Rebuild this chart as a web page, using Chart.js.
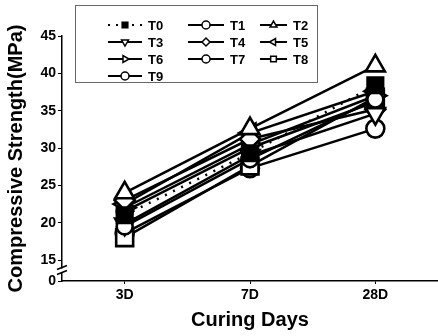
<!DOCTYPE html>
<html>
<head>
<meta charset="utf-8">
<script src="https://cdn.jsdelivr.net/npm/chart.js@4/dist/chart.umd.min.js"></script>
<style>
  html, body { margin: 0; padding: 0; background: #fff; }
  #wrap { width: 438px; height: 336px; }
</style>
</head>
<body>
<div id="wrap"><canvas id="strength-chart"></canvas></div>
<script>
const days = ['3D', '7D', '28D']
const names = ['T0', 'T1', 'T2', 'T3', 'T4', 'T5', 'T6', 'T7', 'T8', 'T9']
const yTicks = [15, 20, 25, 30, 35, 40, 45]

// compressive strength (MPa) at 3D, 7D, 28D
const T0 = [21.0, 29.3, 38.4]
const T1 = [19.5, 28.5, 36.5]
const T2 = [24.0, 32.6, 41.0]
const T3 = [19.8, 29.0, 34.6]
const T4 = [23.0, 31.2, 35.2]
const T5 = [22.5, 32.0, 37.6]
const T6 = [22.0, 30.5, 37.0]
const T7 = [21.5, 30.0, 36.2]
const T8 = [18.0, 27.6, 36.8]
const T9 = [18.6, 27.3, 32.6]
const values = [T0, T1, T2, T3, T4, T5, T6, T7, T8, T9]

// the axis is broken between 0 and 15, 0 sits a little under 15
const yBottom = 12.19

const markers = [
  { style: 'rect', rot: 0, r: 11, fill: '#000' },
  { style: 'circle', rot: 0, r: 8, fill: '#fff' },
  { style: 'triangle', rot: 0, r: 11, fill: '#fff' },
  { style: 'triangle', rot: 180, r: 11, fill: '#fff' },
  { style: 'rectRot', rot: 0, r: 10, fill: '#fff' },
  { style: 'triangle', rot: 270, r: 11, fill: '#fff' },
  { style: 'triangle', rot: 90, r: 11, fill: '#fff' },
  { style: 'circle', rot: 0, r: 8, fill: '#fff' },
  { style: 'rect', rot: 0, r: 12, fill: '#fff' },
  { style: 'circle', rot: 0, r: 9, fill: '#fff' }
]

const datasets = names.map((name, i) => ({
  label: name,
  data: values[i],
  borderColor: '#000',
  borderWidth: 2.5,
  borderDash: i === 0 ? [2, 7] : [],
  pointStyle: markers[i].style,
  pointRotation: markers[i].rot,
  pointRadius: markers[i].r,
  pointBorderWidth: 2.6,
  pointBackgroundColor: markers[i].fill,
  pointBorderColor: '#000',
  tension: 0
}))

const font = 'Liberation Sans, Arial, sans-serif'

// legend box drawn at the top of the picture
const boxLegend = {
  id: 'boxLegend',
  afterDraw (chart) {
    const ctx = chart.ctx
    ctx.save()
    ctx.strokeStyle = '#666'
    ctx.lineWidth = 1
    ctx.fillStyle = '#fff'
    ctx.fillRect(75.5, 5.5, 242, 77)
    ctx.strokeRect(75.5, 5.5, 242, 77)
    const cols = [[108, 148], [188, 230], [260, 293]]
    const rows = [25, 42, 59, 76]
    ctx.font = 'bold 13px ' + font
    ctx.textBaseline = 'middle'
    names.forEach((name, i) => {
      const col = cols[i % 3]
      const y = rows[Math.floor(i / 3)]
      const x0 = col[0]
      const x1 = col[1] - 6
      ctx.strokeStyle = '#000'
      ctx.lineWidth = 2
      ctx.setLineDash(i === 0 ? [2, 6] : [])
      ctx.beginPath()
      ctx.moveTo(x0, y)
      ctx.lineTo(x1, y)
      ctx.stroke()
      ctx.setLineDash([])
      ctx.fillStyle = markers[i].fill
      ctx.strokeStyle = '#000'
      ctx.lineWidth = 1.5
      Chart.helpers.drawPoint(ctx, {
        pointStyle: markers[i].style,
        rotation: markers[i].rot,
        radius: 4,
        borderWidth: 1.5
      }, (x0 + x1) / 2, y)
      ctx.fillStyle = '#000'
      ctx.fillText(name, col[1], y + 1)
    })
    ctx.restore()
  }
}

// the two little slashes of the y axis break
const axisBreak = {
  id: 'axisBreak',
  afterDraw (chart) {
    const ctx = chart.ctx
    const x = chart.chartArea.left
    const y = (chart.scales.y.getPixelForValue(15) + chart.scales.y.getPixelForValue(yBottom)) / 2
    ctx.save()
    ctx.fillStyle = '#fff'
    ctx.fillRect(x - 2, y - 2, 4, 4)
    ctx.strokeStyle = '#000'
    ctx.lineWidth = 1.5
    ctx.beginPath()
    ctx.moveTo(x - 5, y - 1)
    ctx.lineTo(x + 5, y - 5)
    ctx.moveTo(x - 5, y + 4)
    ctx.lineTo(x + 5, y)
    ctx.stroke()
    ctx.restore()
  }
}

new Chart(document.getElementById('strength-chart'), {
  type: 'line',
  data: { labels: days, datasets },
  options: {
    responsive: true,
    maintainAspectRatio: false,
    animation: false,
    layout: { autoPadding: false, padding: { top: 36, right: 0, left: 0, bottom: 0 } },
    plugins: { legend: { display: false }, tooltip: { enabled: false } },
    scales: {
      x: {
        offset: true,
        border: { display: true, color: '#000', width: 1.5 },
        grid: { drawOnChartArea: false, drawTicks: true, tickLength: 3, color: '#000' },
        ticks: { color: '#000', font: { family: font, size: 14, weight: 'bold' }, padding: 3 },
        title: { display: true, text: 'Curing Days', color: '#000', font: { family: font, size: 20, weight: 'bold' }, padding: { top: 2 } },
        afterFit (scale) { scale.height = 55 }
      },
      y: {
        min: yBottom,
        max: 45,
        border: { display: true, color: '#000', width: 1.5 },
        grid: { drawOnChartArea: false, drawTicks: true, tickLength: 4, color: '#000' },
        afterBuildTicks (scale) {
          scale.ticks = [yBottom].concat(yTicks).map(v => ({ value: v }))
        },
        ticks: {
          color: '#000',
          font: { family: font, size: 14, weight: 'bold' },
          padding: 2,
          callback: v => (v === yBottom ? '0' : v)
        },
        title: { display: true, text: 'Compressive Strength(MPa)', color: '#000', font: { family: font, size: 20, weight: 'bold' }, padding: { bottom: 0 } },
        afterFit (scale) { scale.width = 62 }
      }
    }
  },
  plugins: [boxLegend, axisBreak]
})
</script>
</body>
</html>
